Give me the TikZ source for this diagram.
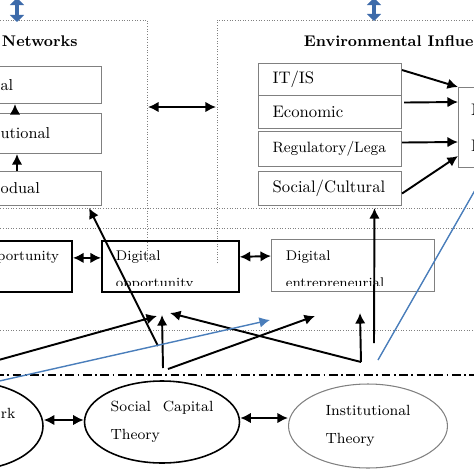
\documentclass[tikz,border=0pt]{standalone}
\usepackage{fontspec}
\usetikzlibrary{shapes.geometric, arrows.meta}
\definecolor{arrowblue}{RGB}{61,107,170}
\definecolor{lineblue}{RGB}{74,126,187}

\begin{document}
\begin{tikzpicture}[x=0.02cm, y=-0.02cm, line width=1.1pt, >={Latex[length=6pt,width=6pt]},
  frame/.style={draw=gray, line width=0.5pt, densely dotted},
  lbox/.style={draw=gray, line width=0.6pt, minimum height=#1, text width=1.82cm, inner xsep=0.2cm, inner ysep=0pt, align=left, anchor=north west, font=\fontsize{9}{11}\selectfont},
  rbox/.style={draw=gray, line width=0.6pt, minimum height=#1, text width=2.3cm, inner xsep=0.28cm, inner ysep=0pt, align=left, anchor=north west, font=\fontsize{9.5}{11}\selectfont},
  midbox/.style={draw, line width=1pt, inner sep=0pt, minimum height=1.02cm},
  midtext/.style={align=left, inner sep=0pt, font=\fontsize{8}{15.4}\selectfont},
  theory/.style={ellipse, draw, line width=0.9pt, inner sep=0pt, align=left, font=\fontsize{8.4}{16}\selectfont},
  title/.style={anchor=west, inner sep=0pt, font=\bfseries\fontsize{8.8}{10}\selectfont},
  updown/.style={{Triangle[length=4pt,width=8pt]}-{Triangle[length=4pt,width=8pt]}, draw=arrowblue, line width=2.6pt},
  blueline/.style={draw=lineblue, line width=0.8pt}]
\useasboundingbox (0,0) rectangle (474,474);
\clip (0,0) rectangle (474,474);

\draw[frame] (-5,20) -- (147,20) -- (147,263);
\draw[frame] (217,263) -- (217,20) -- (480,20);
\draw[frame] (-5,208) -- (480,208);
\draw[frame] (-5,228) -- (480,228);
\draw[frame] (-5,330) -- (480,330);
\draw[line width=0.8pt, dash pattern=on 5pt off 2pt on 1pt off 2pt] (-5,375) -- (480,375);

\coordinate (lt0) at (17,-2);
\coordinate (lt1) at (17,22);
\coordinate (rt0) at (374,-2);
\coordinate (rt1) at (374,21);
\draw[updown] (lt0) -- (lt1);
\draw[updown] (rt0) -- (rt1);

\node[title] (netw) at (1,41) {Networks};
\node[title] (envt) at (303,41) {Environmental Influe};

\node[lbox=0.74cm] (lbtop) at (-10,66) {al};
\node[lbox=0.8cm] (lbmid) at (-10,113) {utional};
\node[lbox=0.68cm] (lbbot) at (-10,171) {odual};
\draw[->] ([xshift=0.54cm]lbbot.north west) -- ([xshift=0.54cm]lbmid.south west);
\draw[->] ([xshift=0.5cm]lbmid.north west) -- ([xshift=0.5cm]lbtop.south west);

\coordinate (netr) at (148,107);
\coordinate (envl) at (216,107);
\draw[<->] (netr) -- (envl);

\node[rbox=0.64cm] (itis) at (258,63) {IT/IS};
\node[rbox=0.66cm] (econ) at (258,95) {Economic};
\node[rbox=0.7cm, font=\fontsize{8.5}{10}\selectfont] (reg) at (258,131) {Regulatory/Lega};
\node[rbox=0.68cm] (soc) at (258,171) {Social/Cultural};
\node[draw=gray, line width=0.6pt, minimum height=1.6cm, text width=1cm, inner xsep=0.25cm, inner ysep=0pt, align=left, anchor=north west, font=\fontsize{9.5}{20.5}\selectfont] (outc) at (458,87) {N\\D};
\draw[->] ([yshift=-0.14cm]itis.north east) -- (outc.north west);
\draw[->] ([xshift=0.04cm, yshift=0.19cm]econ.east) -- ([yshift=-0.3cm]outc.north west);
\draw[->] ([yshift=0.13cm]reg.east) -- ([yshift=-1.1cm]outc.north west);
\draw[->] ([yshift=-0.1cm]soc.east) -- ([yshift=0.24cm]outc.south west);

\node[midbox, minimum width=2.86cm, anchor=north east] (opp) at (73,240) {};
\node[midtext, anchor=north east] (oppt) at ([xshift=-0.26cm, yshift=-0.2cm]opp.north east) {opportunity};
\node[midbox, minimum width=2.74cm, anchor=north west] (dopp) at (101,240) {};
\begin{scope}
\clip (dopp.north west) rectangle ([yshift=0.14cm]dopp.south east);
\node[midtext, anchor=north west] (doppt) at ([xshift=0.28cm, yshift=-0.2cm]dopp.north west) {Digital\\opportunity};
\end{scope}
\node[midbox, draw=gray, line width=0.6pt, minimum width=3.26cm, minimum height=1.04cm, anchor=north west] (dent) at (271,239) {};
\begin{scope}
\clip (dent.north west) rectangle ([yshift=0.14cm]dent.south east);
\node[midtext, anchor=north west] (dentt) at ([xshift=0.28cm, yshift=-0.22cm]dent.north west) {Digital\\entrepreneurial};
\end{scope}
\draw[<->] ([yshift=0.17cm]opp.east) -- ([yshift=0.17cm]dopp.west);
\draw[<->] ([yshift=0.19cm]dopp.east) -- ([yshift=0.19cm]dent.west);

\coordinate (s0) at (-5,361);
\coordinate (s1) at (158,346);
\coordinate (s2) at (163,368);
\coordinate (s3) at (168,369);
\coordinate (s4) at (361,362);
\coordinate (s5) at (374,343);
\coordinate (e0) at (157,316);
\coordinate (e1) at (162,315);
\coordinate (e2) at (170,313);
\coordinate (e3) at (315,316);
\coordinate (e4) at (360,313);
\draw[->] (s1) -- ([xshift=-0.26cm, yshift=-0.04cm]lbbot.south east);
\draw[->] (s0) -- (e0);
\draw[->] (s2) -- (e1);
\draw[->] (s4) -- (e2);
\draw[->] (s3) -- (e3);
\draw[->] (s4) -- (e4);
\draw[->] (s5) -- ([xshift=0.89cm, yshift=-0.04cm]soc.south);

\coordinate (b0) at (-5,382);
\coordinate (b1) at (270,320);
\coordinate (b2) at (378,360);
\coordinate (b3) at (490,164);
\draw[->, blueline] (b0) -- (b1);
\draw[blueline] (b2) -- (b3);

\node[theory, minimum width=2.96cm, minimum height=1.76cm] (ant) at (-31,426) {};
\node[anchor=west, inner sep=0pt, font=\fontsize{8.4}{10}\selectfont] (antt) at (0,413) {rk};
\node[theory, minimum width=3.1cm, minimum height=1.64cm] (sct) at (162,422) {Social\hspace{0.8em}Capital\\Theory};
\node[theory, draw=gray, line width=0.6pt, minimum width=3.18cm, minimum height=1.68cm] (inst) at (368,426) {Institutional\\Theory};
\draw[<->] ([yshift=0.12cm]ant.east) -- ([yshift=0.04cm]sct.west);
\draw[<->] ([yshift=0.08cm]sct.east) -- ([yshift=0.16cm]inst.west);
\end{tikzpicture}
\end{document}
